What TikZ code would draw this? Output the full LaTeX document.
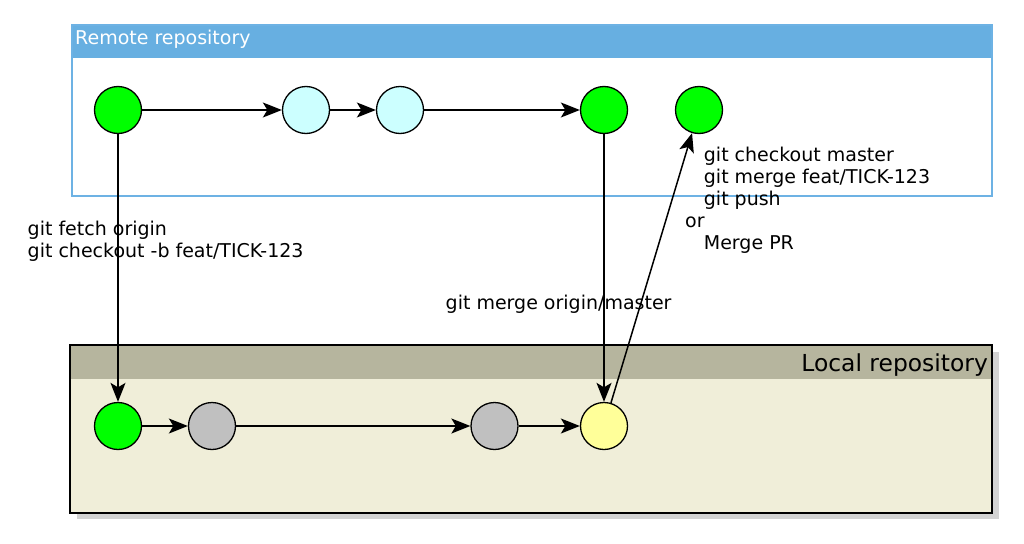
\documentclass[tikz,border=0pt]{standalone}
\usepackage{fontspec}
\setmainfont{DejaVu Sans}
\usetikzlibrary{arrows.meta}
\definecolor{cgreen}{HTML}{00FF00}
\definecolor{ccyan}{HTML}{CCFFFF}
\definecolor{cgray}{HTML}{C0C0C0}
\definecolor{cyellow}{HTML}{FFFF99}
\definecolor{remhead}{HTML}{67AFE1}
\definecolor{remborder}{HTML}{6DB2E4}
\definecolor{lochead}{HTML}{B6B59E}
\definecolor{locbody}{HTML}{F0EED9}
\definecolor{shadowgray}{HTML}{D3D3D3}
\begin{document}
\begin{tikzpicture}[x=1pt,y=-1pt,
  commit/.style={circle,draw=black,line width=1.3pt,minimum size=47pt,inner sep=0pt},
  flow/.style={-{Stealth[length=19pt,width=15pt,inset=4.5pt]},line width=1.5pt},
  lbl/.style={font=\fontsize{19}{22}\selectfont,inner sep=0pt,align=left}]
\useasboundingbox[fill=white] (0,0) rectangle (1024,543);
% remote repository frame
\fill[remhead] (72,25) rectangle (992,58);
\draw[remborder,line width=1.3pt] (72,25) rectangle (992,196);
\node[lbl,text=white,anchor=base west] (remtitle) at (75,45) {Remote repository};
% local repository frame
\fill[shadowgray] (77,352) rectangle (999,519);
\fill[locbody] (70,345) rectangle (992,513);
\fill[lochead] (70,345) rectangle (992,379);
\draw[line width=1.3pt] (70,345) rectangle (992,513);
\node[font=\fontsize{23.4}{27}\selectfont,inner sep=0pt,anchor=base east] (loctitle) at (988,371.5) {Local repository};
% commits remote
\node[commit,fill=cgreen] (r1) at (118,110) {};
\node[commit,fill=ccyan] (r2) at (306,110) {};
\node[commit,fill=ccyan] (r3) at (400,110) {};
\node[commit,fill=cgreen] (r4) at (604,110) {};
\node[commit,fill=cgreen] (r5) at (699,110) {};
% commits local
\node[commit,fill=cgreen] (l1) at (118,426) {};
\node[commit,fill=cgray] (l2) at (212,426) {};
\node[commit,fill=cgray] (l3) at (494.5,426) {};
\node[commit,fill=cyellow] (l4) at (604,426) {};
% labels
\node[lbl,anchor=north west] (fetch) at (27.5,220.5) {git fetch origin\\git checkout -b feat/TICK-123};
\node[lbl,anchor=base west] (mergeom) at (445.5,309) {git merge origin/master};
\node[lbl,anchor=north west] (push) at (685,147.2) {\hspace*{18.7pt}git checkout master\\\hspace*{18.7pt}git merge feat/TICK-123\\\hspace*{18.7pt}git push\\or\\\hspace*{18.7pt}Merge PR};
% connectors
\draw[flow] (r1) -- (r2);
\draw[flow] (r2) -- (r3);
\draw[flow] (r3) -- (r4);
\draw[flow] (r1) -- (l1);
\draw[flow] (l1) -- (l2);
\draw[flow] (l2) -- (l3);
\draw[flow] (l3) -- (l4);
\draw[flow] (r4) -- (l4);
\draw[flow] (l4) -- (r5);
\end{tikzpicture}
\end{document}
